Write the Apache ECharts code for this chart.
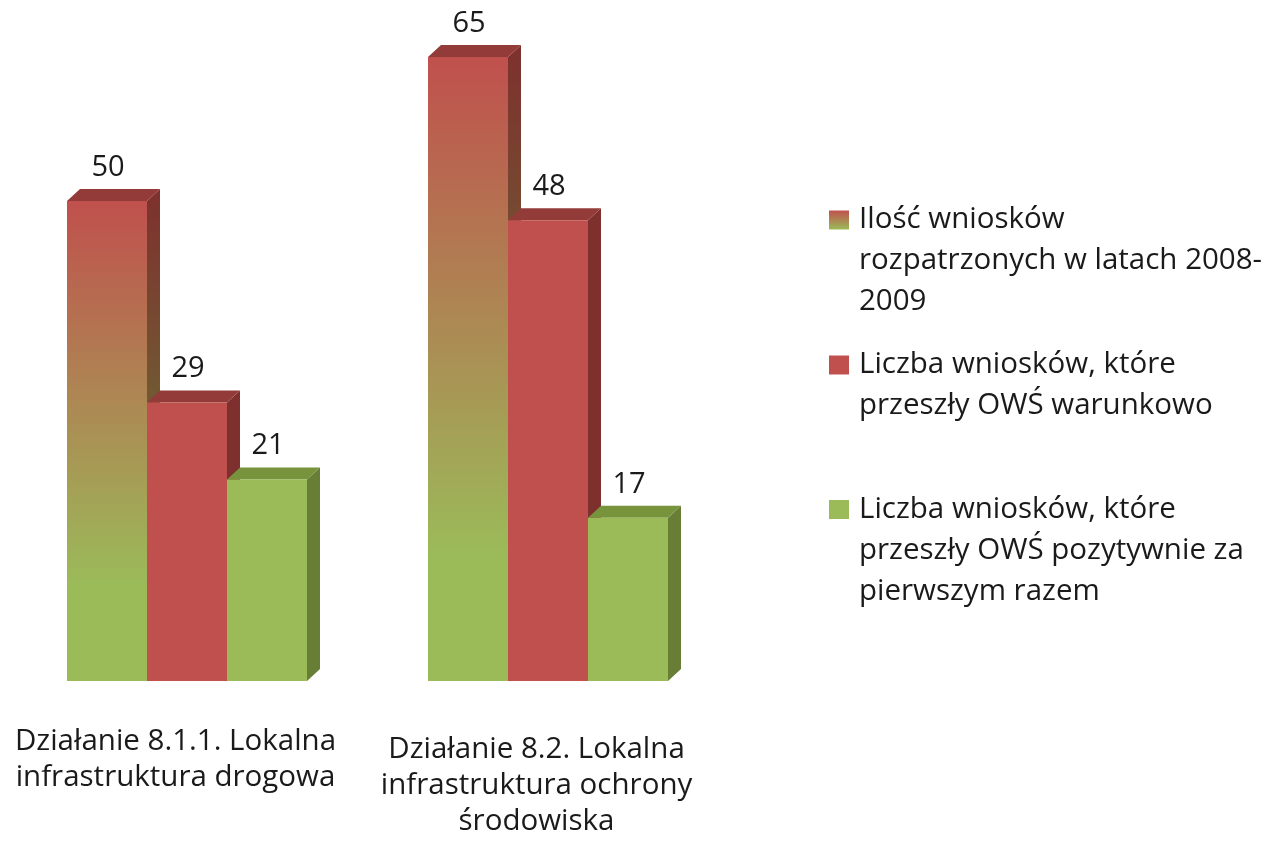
<!DOCTYPE html>
<html><head><meta charset="utf-8">
<script src="https://cdn.jsdelivr.net/npm/echarts@6/dist/echarts.min.js"></script>
<style>html,body{margin:0;padding:0;background:#fff}#c{width:1270px;height:845px}</style>
</head><body><div id="c"></div>
<script>
const categories = ['Działanie 8.1.1. Lokalna\ninfrastruktura drogowa', 'Działanie 8.2. Lokalna\ninfrastruktura ochrony\nśrodowiska'];
const seriesNames = ['Ilość wniosków rozpatrzonych w latach 2008-2009', 'Liczba wniosków, które przeszły OWŚ warunkowo', 'Liczba wniosków, które przeszły OWŚ pozytywnie za pierwszym razem'];
const legendLabels = ['Ilość wniosków\nrozpatrzonych w latach 2008-\n2009', 'Liczba wniosków, które\nprzeszły OWŚ warunkowo', 'Liczba wniosków, które\nprzeszły OWŚ pozytywnie za\npierwszym razem'];
const rozpatrzone = [50, 65];
const warunkowo = [29, 48];
const pozytywnie = [21, 17];
const seriesValues = [rozpatrzone, warunkowo, pozytywnie];

const FONT = '"Open Sans", sans-serif';
const TXT = '#1a1a1a';
const BW = 80, DX = 13, DY = 12, OFF = -113.5;
const LG = echarts.graphic.LinearGradient;
const styles = [
  {front: new LG(0,0,0,1,[{offset:0,color:'#C0504D'},{offset:0.8,color:'#9BBB59'},{offset:1,color:'#9BBB59'}]),
   side: new LG(0,0,0,1,[{offset:0,color:'#7E302E'},{offset:0.8,color:'#667D37'},{offset:1,color:'#667D37'}]),
   top: '#933B39',
   legend: new LG(0,0,0,1,[{offset:0,color:'#C0504D'},{offset:1,color:'#9BBB59'}])},
  {front:'#C0504D', side:'#7E302E', top:'#933B39', legend:'#C0504D'},
  {front:'#9BBB59', side:'#687E37', top:'#77933C', legend:'#9BBB59'}
];

function renderItem(params, api) {
  const s = params.seriesIndex;
  const st = styles[s];
  const ci = api.value(0), v = api.value(1);
  const t = api.coord([ci, v]);
  const b = api.coord([ci, 0]);
  const x0 = t[0] + OFF + s * BW, x1 = x0 + BW, yt = t[1], yb = b[1];
  return {
    type: 'group',
    children: [
      {type:'polygon', shape:{points:[[x1,yt],[x1+DX,yt-DY],[x1+DX,yb-DY],[x1,yb]]}, style:{fill:st.side}},
      {type:'polygon', shape:{points:[[x0,yt],[x0+DX,yt-DY],[x1+DX,yt-DY],[x1,yt]]}, style:{fill:st.top}},
      {type:'rect', shape:{x:x0,y:yt,width:BW,height:yb-yt}, style:{fill:st.front}},
      {type:'text', style:{text:String(v), x:x0+BW/2+1, y:yt-DY-7, align:'center', verticalAlign:'bottom',
        fontSize:29, fontFamily:FONT, fill:TXT}}
    ]
  };
}

const series = seriesNames.map((name, s) => ({
  type: 'custom',
  name: name,
  renderItem: renderItem,
  itemStyle: {color: styles[s].legend},
  encode: {x: 0, y: 1},
  data: seriesValues[s].map((v, i) => [i, v])
}));

const legendCenters = [220, 365, 509.5];
const LH = 41;
const legends = seriesNames.map((name, s) => {
  const n = legendLabels[s].split('\n').length;
  const total = (2 * n - 1) * LH;
  return {
    data: [name],
    left: 829,
    top: legendCenters[s] - total / 2,
    padding: 0,
    icon: 'rect',
    itemWidth: 20,
    itemHeight: 19,
    selectedMode: false,
    formatter: () => '\n'.repeat(n - 1) + legendLabels[s],
    textStyle: {fontSize: 29.5, lineHeight: LH, fontFamily: FONT, color: TXT, padding: [0,0,0,5]}
  };
});

const chart = echarts.init(document.getElementById('c'));
chart.setOption({
  backgroundColor: '#ffffff',
  animation: false,
  legend: legends,
  grid: {left: 0, width: 722, top: 9, bottom: 164},
  xAxis: {
    type: 'category',
    data: categories,
    axisLine: {show: false},
    axisTick: {show: false},
    axisLabel: {
      interval: 0,
      margin: 43,
      formatter: (val, idx) => {
        const lines = val.split('\n').map(l => '{n|' + l + '}');
        if (idx === 1) lines.unshift('{s| }');
        return lines.join('\n');
      },
      rich: {
        n: {fontSize: 29.5, lineHeight: 36, fontFamily: FONT, color: TXT, padding: [0, 10, 0, 0]},
        s: {fontSize: 6, lineHeight: 8}
      }
    }
  },
  yAxis: {type: 'value', min: 0, max: 70, show: false, splitLine: {show: false}},
  series: series
});
</script></body></html>
